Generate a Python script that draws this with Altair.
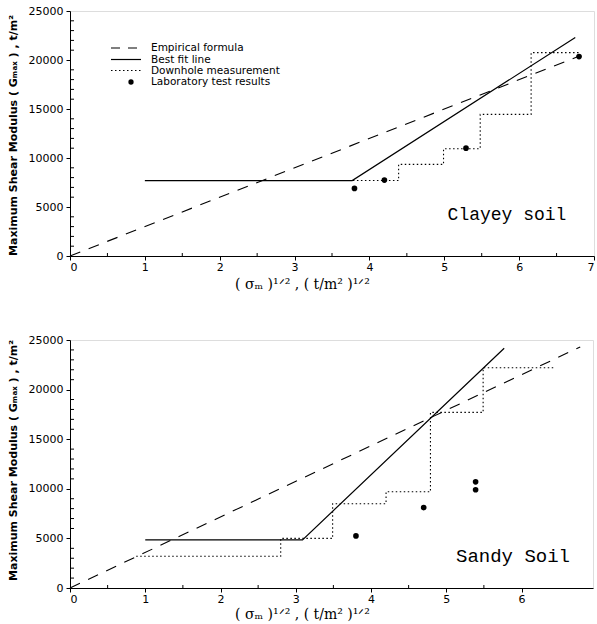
import altair as alt
import pandas as pd

# ---------------- data ----------------
# Clayey soil
clay_emp_x = [0.0, 6.82]
clay_emp_y = [0, 20450]
clay_fit_x = [1.0, 3.77, 6.75]
clay_fit_y = [7700, 7700, 22300]
clay_dh_x = [2.23, 4.39, 4.99, 5.48, 6.16, 6.82]
clay_dh_y = [7700, 9350, 10950, 14450, 20750, 20750]
clay_lab_x = [3.80, 4.20, 5.29, 6.80]
clay_lab_y = [6900, 7750, 11000, 20350]

# Sandy soil
sand_emp_x = [0.0, 6.78]
sand_emp_y = [0, 24300]
sand_fit_x = [1.0, 3.09, 5.77]
sand_fit_y = [4850, 4850, 24170]
sand_dh_x = [0.88, 2.80, 3.49, 4.20, 4.79, 5.49, 6.45]
sand_dh_y = [3200, 5000, 8500, 9700, 17700, 22200, 22200]
sand_lab_x = [3.80, 4.70, 5.39, 5.39]
sand_lab_y = [5250, 8100, 10700, 9900]

legend_labels = ["Empirical formula", "Best fit line", "Downhole measurement", "Laboratory test results"]

y_ticks = [0, 5000, 10000, 15000, 20000, 25000]
y_minor = [v for v in range(1000, 25000, 1000) if v % 5000 != 0]

X_TITLE = "(   σₘ   )¹ᐟ²   ,   (   t/m²   )¹ᐟ²"
Y_TITLE = "Maximum  Shear  Modulus   (  Gₘₐₓ  ) ,  t/m²"


def panel(emp_x, emp_y, fit_x, fit_y, dh_x, dh_y, lab_x, lab_y,
          soil, soil_x, soil_y, soil_size, xmax, x_ticks, w, h, title_y, ytitle_y, legend=False):
    xs = alt.Scale(domain=[0, xmax], nice=False, zero=False)
    ys = alt.Scale(domain=[0, 25000], nice=False)
    xaxis = alt.Axis(values=x_ticks, format="d", tickSize=4, labelFontSize=11,
                     labelFont="DejaVu Sans", labelColor="black", tickColor="black",
                     domainColor="black", grid=False, title=X_TITLE,
                     titleFont="DejaVu Serif", titleFontSize=14, titleFontWeight="normal",
                     titleX=232, titleY=title_y, titleAlign="center", titleBaseline="middle",
                     labelPadding=1)
    yaxis = alt.Axis(values=y_ticks, format="d", tickSize=4, labelFontSize=11,
                     labelFont="DejaVu Sans", labelColor="black", tickColor="black",
                     domainColor="black", grid=False, title=Y_TITLE,
                     titleFont="DejaVu Sans", titleFontSize=11, titleFontWeight="bold",
                     titleX=-57, titleY=ytitle_y, titleAngle=270, titleAlign="center",
                     titleBaseline="middle", labelPadding=3)

    emp = pd.DataFrame({"x": emp_x, "y": emp_y})
    fit = pd.DataFrame({"x": fit_x, "y": fit_y})
    dh = pd.DataFrame({"x": dh_x, "y": dh_y})
    lab = pd.DataFrame({"x": lab_x, "y": lab_y})

    base_enc = dict(x=alt.X("x:Q", scale=xs, axis=xaxis),
                    y=alt.Y("y:Q", scale=ys, axis=yaxis))

    l_emp = alt.Chart(emp).mark_line(color="black", strokeWidth=1.1,
                                     strokeDash=[11, 9]).encode(**base_enc)
    l_fit = alt.Chart(fit).mark_line(color="black", strokeWidth=1.2).encode(**base_enc)
    l_dh = alt.Chart(dh).mark_line(color="black", strokeWidth=1.1, interpolate="step-after",
                                   strokeDash=[1.5, 2.5]).encode(**base_enc)
    l_lab = alt.Chart(lab).mark_circle(color="black", size=32, opacity=1).encode(**base_enc)

    xminor = [i + 0.5 for i in range(int(xmax)) if i + 0.5 < xmax]
    t_x = alt.Chart(pd.DataFrame({"x": xminor})).mark_rule(color="black", strokeWidth=1).encode(
        x=alt.X("x:Q", scale=xs), y=alt.value(h), y2=alt.value(h - 3))
    t_y = alt.Chart(pd.DataFrame({"y": y_minor})).mark_rule(color="black", strokeWidth=1).encode(
        y=alt.Y("y:Q", scale=ys), x=alt.value(0), x2=alt.value(4))

    soil_txt = alt.Chart(pd.DataFrame({"t": [soil]})).mark_text(
        font="Liberation Mono", fontSize=soil_size, color="black", align="center", baseline="middle"
    ).encode(text="t:N", x=alt.value(soil_x), y=alt.value(soil_y))

    layers = [l_emp, l_fit, l_dh, l_lab, t_x, t_y, soil_txt]

    if legend:
        rows = [37, 48.5, 59.5, 71]
        one = pd.DataFrame({"a": [0]})
        layers.append(alt.Chart(one).mark_rule(color="black", strokeWidth=1.1, strokeDash=[9, 8]).encode(
            x=alt.value(41), x2=alt.value(71), y=alt.value(rows[0])))
        layers.append(alt.Chart(one).mark_rule(color="black", strokeWidth=1.2).encode(
            x=alt.value(41), x2=alt.value(71), y=alt.value(rows[1])))
        layers.append(alt.Chart(one).mark_rule(color="black", strokeWidth=1.1, strokeDash=[1.5, 2.5]).encode(
            x=alt.value(41), x2=alt.value(71), y=alt.value(rows[2])))
        layers.append(alt.Chart(one).mark_circle(color="black", size=28, opacity=1).encode(
            x=alt.value(61), y=alt.value(rows[3])))
        for lbl, ry in zip(legend_labels, rows):
            layers.append(alt.Chart(pd.DataFrame({"t": [lbl]})).mark_text(
                font="DejaVu Sans", fontSize=10.5, color="black", align="left", baseline="middle"
            ).encode(text="t:N", x=alt.value(81), y=alt.value(ry)))

    return alt.layer(*layers).properties(width=w, height=h)


top = panel(clay_emp_x, clay_emp_y, clay_fit_x, clay_fit_y, clay_dh_x, clay_dh_y,
            clay_lab_x, clay_lab_y, "Clayey soil", 437, 204, 18, 7, list(range(0, 8)), 524, 245,
            28, 124, legend=True)
bottom = panel(sand_emp_x, sand_emp_y, sand_fit_x, sand_fit_y, sand_dh_x, sand_dh_y,
               sand_lab_x, sand_lab_y, "Sandy Soil", 443, 216, 19, 6.95, list(range(0, 7)), 523, 248,
               26, 120)

chart = alt.vconcat(top, bottom, spacing=84, bounds="flush").properties(
    padding={"left": 6, "top": 0, "right": 0, "bottom": 0}
).configure_view(stroke="black", strokeWidth=1.2).configure(background="white")

chart.save("out.html", embed_options={"renderer": "svg", "actions": False})
